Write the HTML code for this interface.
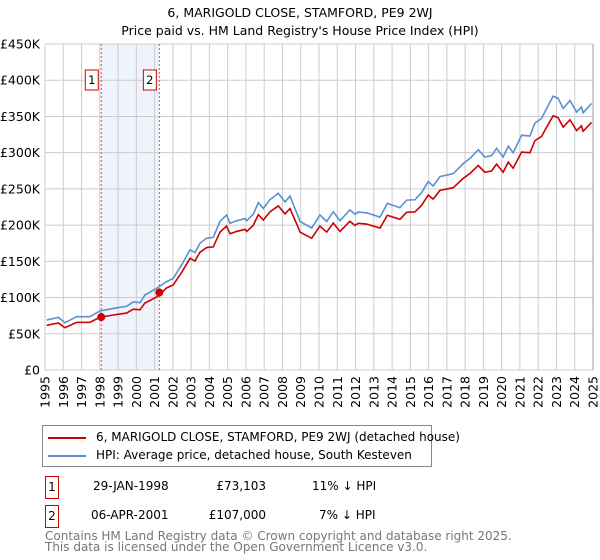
<!DOCTYPE html>
<html><head><meta charset="utf-8"><style>
body{margin:0;background:#fff;font-family:"DejaVu Sans","Liberation Sans",sans-serif;}
#wrap{position:relative;width:600px;height:560px;overflow:hidden}
.t{position:absolute;font-size:12px;color:#000;white-space:nowrap}
</style></head><body>
<div id="wrap">
<svg id="chart" width="600" height="420" style="position:absolute;left:0;top:0"></svg>
<div style="position:absolute;left:42px;top:425px;width:388px;height:40px;border:1px solid #888;">
 <div style="position:absolute;left:5px;top:4px;font-size:12px;white-space:nowrap"><span style="display:inline-block;width:38px;height:2px;background:#cc0000;vertical-align:middle;margin-right:10px"></span>6, MARIGOLD CLOSE, STAMFORD, PE9 2WJ (detached house)</div>
 <div style="position:absolute;left:5px;top:22px;font-size:12px;white-space:nowrap"><span style="display:inline-block;width:38px;height:2px;background:#5b8fd0;vertical-align:middle;margin-right:10px"></span>HPI: Average price, detached house, South Kesteven</div>
</div>
<div style="position:absolute;left:45px;top:476px;width:12px;height:21px;border:1px solid #cc0000;font-size:12px;text-align:center;line-height:21px">1</div>
<div class="t" style="left:93px;top:479px">29-JAN-1998</div>
<div class="t" style="left:206px;top:479px;width:60px;text-align:right">£73,103</div>
<div class="t" style="left:312px;top:479px">11% ↓ HPI</div>
<div style="position:absolute;left:45px;top:505px;width:12px;height:21px;border:1px solid #cc0000;font-size:12px;text-align:center;line-height:21px">2</div>
<div class="t" style="left:91px;top:508px">06-APR-2001</div>
<div class="t" style="left:196px;top:508px;width:70px;text-align:right">£107,000</div>
<div class="t" style="left:319px;top:508px">7% ↓ HPI</div>
<div class="t" style="left:45px;top:531px;font-size:12px;color:#777;line-height:11px">Contains HM Land Registry data © Crown copyright and database right 2025.<br>This data is licensed under the Open Government Licence v3.0.</div>
</div>
<script>
const hpiYears=[1995.09,1995.73,1996.09,1996.73,1997.46,1998.01,1998.74,1999.47,1999.83,2000.2,2000.47,2001.11,2001.66,2002.02,2002.48,2002.94,2003.21,2003.48,2003.85,2004.21,2004.58,2004.94,2005.13,2005.49,2005.95,2006.04,2006.4,2006.68,2006.95,2007.31,2007.77,2008.14,2008.41,2008.86,2008.96,2009.6,2010.05,2010.42,2010.78,2011.15,2011.69,2011.97,2012.15,2012.6,2013.34,2013.74,2014.43,2014.8,2015.25,2015.62,2015.98,2016.25,2016.62,2017.35,2017.9,2018.26,2018.72,2019.08,2019.45,2019.72,2020.08,2020.36,2020.63,2021.09,2021.55,2021.82,2022.18,2022.46,2022.82,2023.09,2023.37,2023.74,2024.1,2024.37,2024.46,2024.92];
const hpiValues=[69,72.7,65.3,73.6,73.6,81.5,85,88,94,93,103.5,112.7,122,126.5,145,166,162,175,182,183,205,214,202.5,206,209,206,215,231,223,235,244,232,240,212,205,196,214,205,218.5,206,221,215,218,217,211,230,224,234.5,235,245,260,254,267,271,285,292,304,294,296,306,294,309,300,324,323,341,347,361,378,375,361,372,356,363,355,368];
const saleYears=[1998.08,2001.26];
const salePrices=[73.103,107];
const saleLabels=["1","2"];
const yTicks=[0,50,100,150,200,250,300,350,400,450];
const yTickLabels=["£0","£50K","£100K","£150K","£200K","£250K","£300K","£350K","£400K","£450K"];
const xTicks=[1995,1996,1997,1998,1999,2000,2001,2002,2003,2004,2005,2006,2007,2008,2009,2010,2011,2012,2013,2014,2015,2016,2017,2018,2019,2020,2021,2022,2023,2024,2025];

const L=45,R=593,T=44,B=370;
const X=y=>L+(y-1995)/30*(R-L);
const Y=v=>B-v/450*(B-T);
const svg=document.getElementById('chart');
const NS='http://www.w3.org/2000/svg';
function mk(tag,attrs){const e=document.createElementNS(NS,tag);for(const k in attrs)e.setAttribute(k,attrs[k]);svg.appendChild(e);return e;}
function hpiAt(t){for(let i=0;i<hpiYears.length-1;i++){if(t<=hpiYears[i+1]){const f=(t-hpiYears[i])/(hpiYears[i+1]-hpiYears[i]);return hpiValues[i]+f*(hpiValues[i+1]-hpiValues[i]);}}return hpiValues[hpiValues.length-1];}

let shade=mk('rect',{x:X(saleYears[0]),y:T,width:X(saleYears[1])-X(saleYears[0]),height:B-T,fill:'#eef3fc'});


yTicks.forEach((v,i)=>{
 const g=mk('line',{x1:L,x2:R,y1:Y(v),y2:Y(v),stroke:'#cccccc','stroke-width':1});
 
 
 const t=mk('text',{x:L-5,y:Y(v)+4.5,'text-anchor':'end','font-size':12.5,fill:'#000','font-family':'DejaVu Sans, Liberation Sans, sans-serif'});
 t.textContent=yTickLabels[i];
 
 
});
xTicks.forEach(y=>{
 const g=mk('line',{x1:X(y),x2:X(y),y1:T,y2:B,stroke:'#cccccc','stroke-width':1});
 
 
 const t=mk('text',{x:0,y:0,'text-anchor':'end','font-size':12.5,fill:'#000','font-family':'DejaVu Sans, Liberation Sans, sans-serif',transform:`translate(${X(y)+4.5},${B+6}) rotate(-90)`});
 t.textContent=y;
 
 
});
const rb=mk('line',{x1:R,x2:R,y1:T,y2:B,stroke:'#999','stroke-width':1});


saleYears.forEach((s,i)=>{
 const l=mk('line',{x1:X(s),x2:X(s),y1:T,y2:B,stroke:'#e05050','stroke-width':1,'stroke-dasharray':'2,2'});
 
 
 const r=mk('rect',{x:X(s)-16,y:70,width:13,height:20,fill:'#fff',stroke:'#cc0000','stroke-width':1});
 
 
 const t=mk('text',{x:X(s)-9.5,y:84,'text-anchor':'middle','font-size':11.5,fill:'#000','font-family':'DejaVu Sans, Liberation Sans, sans-serif'});
 t.textContent=saleLabels[i];
 
 
});
const hp=mk('polyline',{points:hpiYears.map((y,i)=>X(y)+','+Y(hpiValues[i])).join(' '),fill:'none',stroke:'#5b8fd0','stroke-width':1.6});


const pts=hpiYears.map((y,i)=>{const k=y<saleYears[1]?0:1;return X(y)+','+Y(hpiValues[i]*salePrices[k]/hpiAt(saleYears[k]));});
const pl=mk('polyline',{points:pts.join(' '),fill:'none',stroke:'#cc0000','stroke-width':1.6});


saleYears.forEach((s,i)=>{
 const c=mk('circle',{cx:X(s),cy:Y(salePrices[i]),r:4,fill:'#cc0000'});
 
 
});
const t1=mk('text',{x:300,y:17,'text-anchor':'middle','font-size':12.5,fill:'#000','font-family':'DejaVu Sans, Liberation Sans, sans-serif'});
t1.textContent='6, MARIGOLD CLOSE, STAMFORD, PE9 2WJ';


const t2=mk('text',{x:300,y:35,'text-anchor':'middle','font-size':12.5,fill:'#000','font-family':'DejaVu Sans, Liberation Sans, sans-serif'});
t2.textContent="Price paid vs. HM Land Registry's House Price Index (HPI)";


</script>
</body></html>
